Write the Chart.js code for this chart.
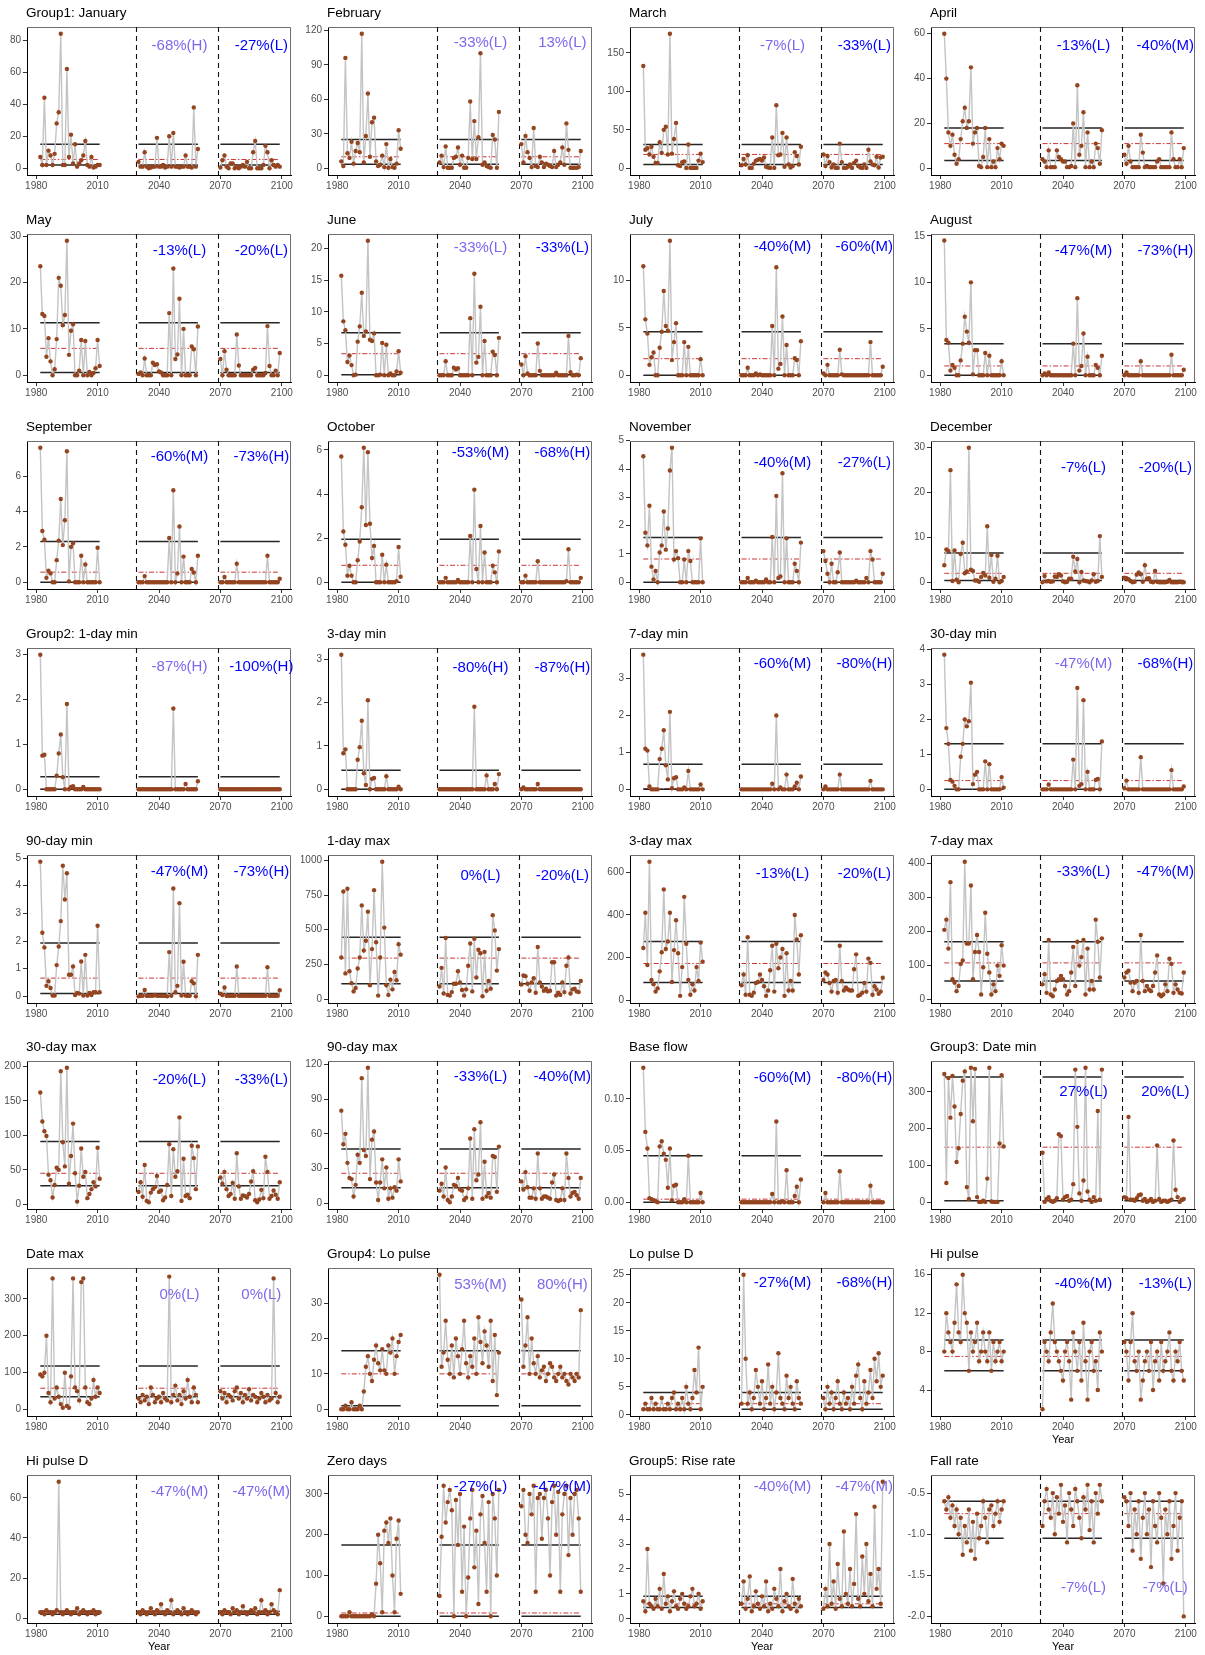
<!DOCTYPE html>
<html><head><meta charset="utf-8">
<script src="https://cdn.jsdelivr.net/npm/chart.js@4.4.1/dist/chart.umd.min.js"></script>
<style>
html,body{margin:0;padding:0;background:#fff;}
body{width:1205px;height:1655px;position:relative;overflow:hidden;}
canvas{position:absolute;}
</style></head><body>
<script>
// ---------------- DATA ----------------
const xTicks = [1980, 2010, 2040, 2070, 2100];
const periodBreaks = [2029, 2069];
const labelYears = [2050, 2090];
function yearRange(a, b) { const r = []; for (let y = a; y <= b; y++) r.push(y); return r; }
const histYears = yearRange(1982, 2011);
const fut1Years = yearRange(2030, 2059);
const fut2Years = yearRange(2070, 2099);

const titles = ['Group1: January','February','March','April','May','June','July','August',
 'September','October','November','December','Group2: 1-day min','3-day min','7-day min','30-day min',
 '90-day min','1-day max','3-day max','7-day max','30-day max','90-day max','Base flow','Group3: Date min',
 'Date max','Group4: Lo pulse','Lo pulse D','Hi pulse','Hi pulse D','Zero days','Group5: Rise rate','Fall rate'];

// Group1
const janHist=[7,2,44,2,11, 8,2,9,28,35, 84,2,2,62,7, 21,3,15,1,3, 5,8,17,2,1, 7,0.5,1,2,2];
const janFut1=[4,1,1,10,1, 0,0.5,1,1,19, 1,1,2,0.5,1, 20,1,22,1,1, 0.5,1,1,8,1, 1,0.5,38,1,12];
const janFut2=[0.5,5,8,1,0, 3,3,0,1,0, 1,2,1,4,0, 0,10,17,0,0, 0,2,14,10,0, 5,2,1,2,1];
const febHist=[6,2,96,13,9, 23,4,15,22,14, 117,5,28,65,10, 40,44,6,2,3, 11,1,21,0.5,8, 1,0.5,4,33,17];
const febFut1=[5,11,1,19,0.5, 0.5,0.5,9,10,18, 3,11,0.5,0.5,9, 58,8,41,8,27, 100,3,5,2,1, 0.5,29,25,0.5,49];
const febFut2=[21,5,28,14,9, 1,35,2,1,10, 5,1,4,3,2, 1,15,1,3,5, 18,3,39,16,0.5, 0.5,0.5,0.5,1,15];
const marHist=[133,24,26,18,28, 15,7,7,34,20, 50,54,18,175,19, 38,59,4,3,8, 9,0.5,31,0.5,0.5, 0.5,0.5,10,19,8];
const marFut1=[4,12,5,17,0.5, 0.5,6,10,11,12, 10,14,2,1,0.5, 40,0.5,82,17,18, 46,2,40,5,1, 3,21,16,5,28];
const marFut2=[18,3,16,8,1, 5,0.5,0.5,32,8, 0.5,0.5,2,5,0.5, 7,10,3,1,0.5, 5,0.5,24,9,5, 4,15,1,14,15];
const aprHist=[60,40,16,10,15, 6,2,4,13,21, 27,18,21,45,11, 16,18,1,0.5,5, 18,0.5,13,0.5,3, 0.5,9,4,11,10];
const aprFut1=[4,3,0.5,8,0.5, 0.5,0.5,8,5,4, 3,3,0.5,0.5,1, 20,0.5,37,6,10, 25,0.5,16,0.5,3, 0.5,11,9,2,17];
const aprFut2=[6,2,10,3,0.5, 0.5,0.5,0.5,15,7, 0.5,1,0.5,0.5,0.5, 0.5,3,4,0.5,0.5, 0.5,0.5,0.5,16,4, 0.5,0.5,4,0.5,9];
const mayHist=[23.5,13.2,12.8,4,8, 3,0,1.3,7.8,21, 19.3,10.8,13,29,4.4, 9.6,11,0,0,1, 7.6,0,7.4,0,0.7, 0,0.5,1.5,7.6,2];
const mayFut1=[0.3,0.6,0,3.6,0, 0,0,2.7,2.2,2.4, 0.8,0.6,0,0,0, 13.4,0,23,3.5,4.5, 16.5,0,10,0,0, 0,6.2,5.6,0,10.5];
const mayFut2=[3.5,0,5.2,1.2,0, 0,0,0,8.8,2.1, 0,0,0,0,0, 0,1.2,1.6,0,0, 0,0,0.5,10.6,2, 0,0,1,0,4.8];
const junHist=[15.7,8.5,7.1,2.1,3.1, 1.6,0,0.1,5.3,7.7, 13,6.2,6.9,21.2,5.6, 5.4,6.6,0,0,0.1, 5.1,0,4.8,0,0.3, 0,0,0.6,3.8,0.4];
const junFut1=[0,0,0,2.2,0, 0,0,1.2,0.9,1.1, 0,0,0,0,0, 9,0,16,2,2.9, 10.8,0,5.4,0,0, 0,3.7,3.2,0,5.9];
const junFut2=[1.7,0,3,0.3,0, 0,0,0,5,0.7, 0,0,0,0,0, 0,0,0.4,0,0, 0,0,0,6.2,0.5, 0,0,0.1,0,2.7];
const julHist=[11.5,5.9,4.4,1.1,1.9, 2.4,0,0,2.9,4.6, 8.9,5.2,4.7,14.2,1.6, 3.5,5.5,0,0,0, 3.5,0,3,0,0, 0,0,0,1.7,0];
const julFut1=[0,0,0,0.8,0, 0,0,0.2,0,0.1, 0,0,0,0,0, 5.2,0,11.4,0.7,1.2, 6.2,0,3.2,0,0, 0,1.8,1.6,0,3.6];
const julFut2=[0.2,0,1.1,0,0, 0,0,0,2.7,0.1, 0,0,0,0,0, 0,0,0,0,0, 0,0,0,3.5,0, 0,0,0,0,0.9];
const augHist=[14.5,3.8,3.5,0.5,1.1, 0.8,0,0,1.6,3.4, 6.3,4.7,3.5,10,0.1, 2.7,2.7,0,0,0, 2.4,0,2.1,0,0, 0,0,0,1.5,0];
const augFut1=[0,0.2,0,0.3,0, 0,0,0,0,0, 0,0,0,0,0, 3.4,0,8.3,0.5,1, 4.5,0,2,0,0, 0,1.1,0.8,0,2.1];
const augFut2=[0,0.3,0,0,0, 0,0,0,1.5,0, 0,0,0,0,0, 0,0,0,0,0, 0,0,0,2.2,0, 0,0,0,0,0.6];
const sepHist=[7.6,2.9,2.4,0.25,0.65, 0.5,0,0,1.25,2.35, 4.7,2.1,3.5,7.4,0.05, 2,2.2,0,0,0, 1.5,0,1,0,0, 0,0,0,1.95,0];
const sepFut1=[0,0,0,0.35,0, 0,0,0,0,0, 0,0,0,0,0, 2.5,0,5.2,0,0.5, 3.15,0,1.45,0,0, 0,0.75,0.55,0,1.5];
const sepFut2=[0,0,0.3,0,0, 0,0,0,1.05,0, 0,0,0,0,0, 0,0,0,0,0, 0,0,0,1.5,0, 0,0,0,0,0.2];
const octHist=[5.7,2.3,1.7,0.3,0.75, 0.3,0,0,1,1.85, 3.4,6.1,2.6,5.9,2.65, 1.1,1.65,0,0,0, 1.25,0,0.8,0,0, 0,0,0.05,1.6,0.25];
const octFut1=[0,0,0,0.2,0, 0,0,0,0,0.1, 0,0,0,0,0, 2.1,0,4.2,0.6,0, 2.55,0,1.35,0,0, 0,0.75,0.45,0,1.4];
const octFut2=[0,0,0.3,0,0, 0,0,0,0.95,0, 0,0,0,0,0, 0,0,0,0,0, 0,0,0.05,1.5,0, 0,0,0,0,0.2];
const novHist=[4.45,1.75,1.3,2.7,0.55, 0.1,0.4,0,1.05,1.3, 2.5,1.15,1.9,3.95,4.75, 0.8,1.1,0.85,0,0, 0.8,0,1.1,0.75,0, 0,0,0,1.55,0];
const novFut1=[0,0,0,0.15,0, 0,0,0.05,0,0, 0,0,0.1,0,0, 1.6,0,3.05,0.15,0.2, 3.85,0,1.55,0,0, 0,0.65,0.4,0,1.4];
const novFut2=[1.1,0.75,0.3,0,0.65, 0,0,0.35,1.05,0, 0,0,0,0,0, 0,0.05,0,0,0, 0,0.15,0,1.1,0.8, 0,0,0,0,0.3];
const decHist=[3.8,7.3,7,25,0.3, 7.1,0.6,0,6.3,8.8, 2,2.4,30,2.8,2.5, 0.4,0.4,0.1,1.2,2.1, 1.5,12.5,1,6.1,0.1, 0.8,5.9,0,0.3,1.2];
const decFut1=[0,1.4,0.2,0.3,0.1, 0.2,1.3,1.2,1.8,1.5, 0.2,0,0.1,0.8,0.8, 5.7,2.4,5.2,0,2.3, 0.4,0.3,0.2,0,0.4, 1.8,0.1,0.3,10.3,1.2];
const decFut2=[1,0.9,0.7,0.3,0, 0.1,1.7,2.2,1.8,0.1, 3.8,0.8,0.9,0.1,0, 2.5,0.1,0,0,0, 0,0.1,0.5,0,0, 0,0,0.1,0,0];
// Group2
const min1Hist=[3,0.75,0.77,0,0, 0,0,0,0.3,0.8, 1.22,0.27,0,1.9,0, 0.05,0.07,0,0,0, 0,0.05,0,0,0, 0,0,0,0,0];
const min1Fut1=[0,0,0,0,0, 0,0,0,0,0, 0,0,0,0,0, 0,0,1.8,0,0, 0,0,0,0.12,0, 0,0,0,0,0.18];
const min1Fut2=[0,0,0,0,0, 0,0,0,0,0, 0,0,0,0,0, 0,0,0,0,0, 0,0,0,0,0, 0,0,0,0,0];
const min3Hist=[3.1,0.83,0.92,0,0, 0,0,0,0.68,0.97, 1.58,0.37,0.1,2.05,0, 0.24,0.26,0,0,0, 0,0,0.3,0,0, 0,0,0,0.06,0];
const min3Fut1=[0,0,0,0,0, 0,0,0,0,0, 0,0,0,0,0, 0,0,1.9,0,0, 0,0,0,0.32,0, 0,0,0.12,0,0.35];
const min3Fut2=[0,0.04,0,0,0, 0,0,0,0.12,0, 0,0,0,0,0, 0,0,0,0,0, 0,0,0,0,0, 0,0,0,0,0];
const min7Hist=[3.65,1.1,1.05,0.08,0, 0,0,0,0.82,1.1, 1.6,0.65,0.27,2.1,0.03, 0.3,0.33,0,0,0, 0.05,0,0.5,0,0, 0,0,0,0.13,0];
const min7Fut1=[0,0,0,0,0, 0,0,0,0,0, 0,0,0,0,0, 0.15,0,2.0,0,0.05, 0,0,0.4,0,0, 0,0.08,0.18,0,0.35];
const min7Fut2=[0,0.08,0,0,0, 0,0,0,0.4,0, 0,0,0,0,0, 0,0,0,0,0, 0,0,0,0.23,0, 0,0,0,0,0];
const min30Hist=[3.85,1.75,1.3,0.27,0.22, 0.1,0,0,0.93,1.3, 2,1.8,1.95,3.05,0.15, 0.42,0.5,0,0,0, 0.8,0,0.72,0,0, 0,0,0,0.35,0.05];
const min30Fut1=[0,0,0,0.14,0, 0,0,0,0,0, 0,0,0,0,0, 0.85,0,2.9,0.1,0.15, 2.55,0,0.5,0,0, 0,0.27,0.3,0,1.37];
const min30Fut2=[0.03,0.25,0,0,0, 0,0,0,0.92,0, 0,0,0,0,0, 0,0,0,0,0, 0,0,0,0.55,0, 0,0,0,0,0.08];
const min90Hist=[4.87,2.3,1.77,0.38,0.55, 0.3,0.03,0.03,1.13,1.8, 2.72,4.72,3.5,4.45,0.78, 0.78,1.08,0.05,0.12,0.1, 1.26,0.03,1.5,0.03,0.12, 0.05,0.15,0.15,2.55,0.15];
const min90Fut1=[0,0.02,0.02,0.23,0.02, 0.02,0.02,0.02,0.05,0.02, 0.02,0.02,0.02,0.02,0, 1.6,0.02,3.9,0.15,0.38, 3.37,0.03,1.25,0.03,0.02, 0.02,0.55,0.47,0,1.5];
const min90Fut2=[0.1,0.05,0.32,0.02,0.02, 0.02,0.02,0.02,1.08,0.02, 0.02,0.02,0.02,0.02,0.02, 0.02,0.02,0.02,0.02,0.02, 0.02,0.02,0.02,1.05,0.02, 0.02,0.02,0.02,0.02,0.22];
const max1Hist=[300,775,185,795,200, 115,55,80,220,300, 675,350,420,630,100, 360,785,410,25,300, 990,515,100,30,140, 70,195,135,395,320];
const max1Fut1=[90,225,40,440,30, 25,50,110,110,200, 120,65,25,70,240, 400,55,435,155,355, 330,20,340,60,130, 75,605,495,205,360];
const max1Fut2=[105,170,165,110,60, 120,150,45,375,120, 90,60,75,55,60, 265,265,25,45,30, 120,50,240,300,40, 70,75,55,50,130];
const max3Hist=[245,410,165,650,95, 75,40,55,135,225, 520,240,275,410,85, 235,375,220,20,155, 485,265,95,25,75, 45,155,90,270,180];
const max3Fut1=[70,120,25,295,25, 20,35,80,85,120, 95,65,20,45,140, 255,40,265,150,200, 240,20,220,45,90, 45,400,285,120,305];
const max3Fut2=[95,130,120,80,40, 90,95,35,255,90, 45,60,50,45,45, 145,215,20,25,35, 80,40,195,175,25, 65,50,30,40,105];
const max7Hist=[205,235,150,345,60, 50,25,40,105,115, 405,165,165,335,60, 140,190,140,15,95, 255,135,80,15,45, 25,100,70,160,100];
const max7Fut1=[45,75,20,175,15, 10,30,55,60,70, 60,40,15,25,80, 155,40,170,100,125, 175,15,150,30,55, 30,235,170,65,180];
const max7Fut2=[65,80,85,50,25, 50,55,20,190,55, 25,40,30,25,40, 80,130,15,10,15, 45,25,120,105,20, 45,30,20,18,80];
const max30Hist=[162,120,106,99,43, 35,10,28,53,50, 193,90,55,198,30, 70,117,45,4,27, 81,40,47,9,15, 22,32,26,82,37];
const max30Fut1=[18,32,11,57,5, 3,17,22,25,41, 18,20,6,10,28, 87,12,80,40,48, 126,5,66,12,14, 9,85,67,22,84];
const max30Fut2=[39,30,47,22,12, 15,31,8,74,26, 8,13,12,10,15, 33,48,6,3,7, 21,9,69,47,8, 12,20,14,8,32];
const max90Hist=[80,51,60,35,22, 21,6,16,42,35, 108,46,41,117,21, 55,62,18,3,18, 38,13,31,4,13, 5,14,11,38,19];
const max90Fut1=[11,17,6,31,3, 1,6,16,15,22, 12,11,3,5,13, 56,4,64,20,25, 70,4,36,6,9, 5,41,40,10,49];
const max90Fut2=[19,12,27,14,5, 5,13,4,43,13, 4,6,6,5,4, 18,25,3,2,3, 13,3,43,22,6, 9,10,7,4,22];
const baseHist=[0.13,0.068,0.052,0.004,0.003, 0.002,0.001,0,0.054,0.059, 0.047,0.041,0.014,0.052,0.002, 0.016,0.017,0,0,0, 0.003,0,0.045,0,0, 0,0,0,0.009,0];
const baseFut1=[0,0,0,0,0, 0,0,0,0,0, 0,0,0,0,0, 0.008,0,0.078,0,0, 0.001,0,0.031,0,0, 0,0.006,0.015,0,0.022];
const baseFut2=[0,0.009,0,0,0, 0,0,0,0.03,0, 0,0,0,0,0, 0,0,0,0,0, 0,0,0,0.016,0, 0,0,0,0,0];
// Group3
const dateMinHist=[348,53,337,230,343, 260,110,147,240,330, 355,42,10,365,220, 362,15,2,2,5, 2,65,365,3,2, 2,2,160,345,152];
const dateMinFut1=[135,2,10,15,5, 2,5,12,185,180, 8,15,18,5,8, 50,360,205,25,5, 60,365,30,8,2, 15,5,248,8,360];
const dateMinFut2=[15,12,232,8,8, 5,12,20,22,5, 10,2,5,10,2, 5,155,10,2,5, 5,2,5,8,168, 35,15,2,8,10];
const dateMaxHist=[95,90,100,200,45, 20,355,30,60,35, 15,5,100,10,5, 90,355,60,50,25, 345,355,60,20,15, 30,80,35,60,45];
const dateMaxFut1=[30,20,40,25,35, 15,60,40,20,30, 35,20,45,30,25, 360,20,40,65,25, 40,15,50,30,80, 35,20,60,40,20];
const dateMaxFut2=[50,30,45,20,40, 35,25,50,60,30, 45,20,40,30,55, 25,40,35,20,30, 45,35,20,40,25, 30,355,45,20,35];
// Group4
const loPulseHist=[0,0,1,0,0, 2,0,0,0,1, 0,5,12,15,10, 8,14,18,13,11, 17,11,10,18,16, 20,10,15,19,21];
const loPulseFut1=[38,12,16,25,14, 10,18,9,20,15, 10,17,25,13,9, 15,12,20,10,26, 19,13,22,18,12, 25,8,21,4,16];
const loPulseFut2=[31,12,18,26,10, 20,13,10,15,9, 11,12,8,10,13, 12,9,8,10,12, 9,10,8,7,10, 9,8,10,9,28];
const loPulseDHist=[1,2,1,1,3, 1,2,1,1,3, 1,1,2,1,3, 4,1,2,1,3, 1,5,2,1,3, 8,4,12,1,5];
const loPulseDFut1=[2,25,10,2,4, 1,3,8,5,2, 6,1,3,9,2, 5,1,4,11,3, 2,1,7,3,5, 2,1,6,3,2];
const loPulseDFut2=[3,1,5,2,4, 1,3,6,2,1, 4,2,3,1,5, 2,7,9,3,1, 6,2,4,8,3, 10,6,11,5,7];
const hiPulseHist=[8,12,10,9,8, 11,15,10,9,16, 12,11,6,10,8, 9,11,7,8,10, 8,7,10,6,9, 7,8,9,7,8];
const hiPulseFut1=[2,9,8,7,10, 13,9,8,7,6, 5,8,9,7,3, 10,8,6,9,5, 11,7,3,8,9, 6,7,4,10,8];
const hiPulseFut2=[9,8,5,9,12, 7,6,8,3,5, 7,8,6,9,4, 7,8,5,9,6, 7,8,10,6,5, 8,7,9,6,5];
const hiPulseDHist=[3,3,2,4,3, 3,2,3,4,68, 3,2,3,4,3, 2,3,3,5,2, 3,4,3,2,3, 3,4,2,3,3];
const hiPulseDFut1=[3,2,4,3,2, 3,5,3,2,4, 3,7,3,2,4, 3,9,2,3,4, 3,2,5,3,2, 3,4,3,2,3];
const hiPulseDFut2=[3,2,4,3,3, 2,5,3,4,2, 3,6,3,2,3, 4,3,5,2,3, 9,3,4,2,3, 7,4,3,2,14];
const zeroHist=[0,0,0,0,10, 0,0,0,0,0, 0,0,0,0,0, 5,0,80,200,130, 10,210,230,180,240, 100,10,190,235,55];
const zeroFut1=[50,195,320,230,280, 310,260,0,285,175, 300,60,220,0,95, 240,310,120,210,30, 250,295,180,60,280, 0,300,240,100,310];
const zeroFut2=[270,310,200,180,300, 250,320,60,290,300, 190,290,310,240,100, 280,320,200,305,60, 250,300,320,150,290, 200,300,310,240,60];
// Group5
const riseHist=[0.7,0.3,2.8,0.6,0.5, 0.4,0.8,0.5,1.2,0.4, 1.8,0.6,0.9,0.3,0.7, 1.1,0.5,0.4,0.8,1.0, 0.6,0.4,0.5,0.9,1.2, 0.5,0.6,1.0,0.4,0.7];
const riseFut1=[0.6,1.5,0.4,0.8,1.7, 0.3,0.5,1.1,0.6,0.4, 0.9,0.5,1.5,0.3,0.6, 0.4,1.2,0.8,0.5,2.0, 0.3,0.7,1.0,0.5,0.4, 1.6,0.6,0.3,0.8,0.5];
const riseFut2=[0.4,1.2,0.5,3.0,0.6, 1.5,0.4,2.2,0.8,0.5, 3.5,1.0,0.6,2.0,0.5, 1.4,4.2,0.8,0.5,2.5, 1.0,3.0,0.7,1.8,0.5, 4.5,1.2,2.0,0.6,5.5];
const fallHist=[-0.6,-0.7,-0.55,-0.8,-0.65, -0.9,-0.7,-1.0,-0.8,-1.25, -0.9,-1.1,-0.7,-1.2,-0.85, -1.3,-0.75,-1.05,-0.9,-0.6, -0.8,-1.1,-0.7,-0.65,-0.9, -0.75,-0.6,-0.85,-0.7,-0.6];
const fallFut1=[-0.9,-0.6,-0.45,-0.7,-0.8, -0.5,-1.0,-0.55,-0.75,-0.4, -0.85,-0.65,-1.1,-0.5,-0.7, -0.9,-0.45,-0.6,-0.8,-1.05, -0.55,-0.7,-0.4,-0.95,-0.6, -1.1,-0.5,-0.75,-0.4,-0.6];
const fallFut2=[-0.55,-0.6,-0.9,-0.5,-1.2, -0.7,-1.0,-0.6,-1.3,-0.8, -0.5,-1.0,-0.7,-1.4,-0.6, -0.9,-1.1,-0.5,-0.8,-1.6, -0.7,-1.0,-0.6,-1.3,-0.9, -0.5,-1.2,-0.8,-0.6,-2.0];

const histSeries=[janHist,febHist,marHist,aprHist,mayHist,junHist,julHist,augHist,sepHist,octHist,novHist,decHist,
 min1Hist,min3Hist,min7Hist,min30Hist,min90Hist,max1Hist,max3Hist,max7Hist,max30Hist,max90Hist,baseHist,dateMinHist,
 dateMaxHist,loPulseHist,loPulseDHist,hiPulseHist,hiPulseDHist,zeroHist,riseHist,fallHist];
const fut1Series=[janFut1,febFut1,marFut1,aprFut1,mayFut1,junFut1,julFut1,augFut1,sepFut1,octFut1,novFut1,decFut1,
 min1Fut1,min3Fut1,min7Fut1,min30Fut1,min90Fut1,max1Fut1,max3Fut1,max7Fut1,max30Fut1,max90Fut1,baseFut1,dateMinFut1,
 dateMaxFut1,loPulseFut1,loPulseDFut1,hiPulseFut1,hiPulseDFut1,zeroFut1,riseFut1,fallFut1];
const fut2Series=[janFut2,febFut2,marFut2,aprFut2,mayFut2,junFut2,julFut2,augFut2,sepFut2,octFut2,novFut2,decFut2,
 min1Fut2,min3Fut2,min7Fut2,min30Fut2,min90Fut2,max1Fut2,max3Fut2,max7Fut2,max30Fut2,max90Fut2,baseFut2,dateMinFut2,
 dateMaxFut2,loPulseFut2,loPulseDFut2,hiPulseFut2,hiPulseDFut2,zeroFut2,riseFut2,fallFut2];

const upperLine=[15,25,31,18,11.3,6.7,4.6,3.4,2.3,1.95,1.58,6.5, 0.28,0.44,0.68,1.3,1.93,445,275,170,91,47,0.045,340, 118,16.5,4,9.2,3.5,175,0.9,-0.6];
const lowerLine=[2,3.5,5,3.5,0.6,0.1,0,0,0,0,0,0.4, 0,0,0,0,0.1,110,83,55,27,13.5,0,5, 35,1,1,6,2,0,0.45,-1.05];
const midLine  =[5.5,10,18,11,5.8,3.4,1.75,1.0,0.57,0.77,0.82,2.0, 0,0,0.02,0.25,0.66,295,172,108,45,26,0.003,150, 58,10,2,7.5,3,8,0.6,-0.75];

const yTickLabels=[['0','20','40','60','80'],['0','30','60','90','120'],['0','50','100','150'],['0','20','40','60'],
 ['0','10','20','30'],['0','5','10','15','20'],['0','5','10'],['0','5','10','15'],
 ['0','2','4','6'],['0','2','4','6'],['0','1','2','3','4','5'],['0','10','20','30'],
 ['0','1','2','3'],['0','1','2','3'],['0','1','2','3'],['0','1','2','3','4'],
 ['0','1','2','3','4','5'],['0','250','500','750','1000'],['0','200','400','600'],['0','100','200','300','400'],
 ['0','50','100','150','200'],['0','30','60','90','120'],['0.00','0.05','0.10'],['0','100','200','300'],
 ['0','100','200','300'],['0','10','20','30'],['0','5','10','15','20','25'],['4','8','12','16'],
 ['0','20','40','60'],['0','100','200','300'],['0','1','2','3','4','5'],['-2.0','-1.5','-1.0','-0.5']];
const yMin=[-4.2,-5.85,-8.75,-3,-1.45,-1.06,-0.71,-0.725,-0.38,-0.305,-0.24,-1.5,
 -0.15,-0.155,-0.18,-0.19,-0.24,-28.5,-13.6,-9.75,-6.75,-4.8,-0.0065,-17.2,
 -17.2,-1.9,-0.2,1.3,-2.35,-16.5,-0.17,-2.08];
const yMax=[88.2,122.85,183.75,63,30.45,22.26,14.91,15.2,7.98,6.405,4.99,31.5,
 3.15,3.255,3.83,4.04,5.11,1038.5,681.6,424.75,207.75,122.8,0.1365,383.2,
 383.2,39.9,26.2,16.7,71.35,346.5,5.77,-0.28];

const changeFut1=['-68%(H)','-33%(L)','-7%(L)','-13%(L)','-13%(L)','-33%(L)','-40%(M)','-47%(M)','-60%(M)','-53%(M)','-40%(M)','-7%(L)',
 '-87%(H)','-80%(H)','-60%(M)','-47%(M)','-47%(M)','0%(L)','-13%(L)','-33%(L)','-20%(L)','-33%(L)','-60%(M)','27%(L)',
 '0%(L)','53%(M)','-27%(M)','-40%(M)','-47%(M)','-27%(L)','-40%(M)','-7%(L)'];
const changeFut2=['-27%(L)','13%(L)','-33%(L)','-40%(M)','-20%(L)','-33%(L)','-60%(M)','-73%(H)','-73%(H)','-68%(H)','-27%(L)','-20%(L)',
 '-100%(H)','-87%(H)','-80%(H)','-68%(H)','-73%(H)','-20%(L)','-20%(L)','-47%(M)','-33%(L)','-40%(M)','-80%(H)','20%(L)',
 '0%(L)','80%(H)','-68%(H)','-13%(L)','-47%(M)','-47%(M)','-47%(M)','-7%(L)'];
// 1 = strong blue, 0 = pale purple
const strongFut1=[0,0,0,1,1,0,1,1,1,1,1,1, 0,1,1,0,1,1,1,1,1,1,1,1, 0,0,1,1,0,1,0,0];
const strongFut2=[1,0,1,1,1,1,1,1,1,1,1,1, 1,1,1,1,1,1,1,1,1,1,1,1, 0,0,1,1,0,1,0,0];
const labelY=[76.5,109,159,54.6,26.8,20,13.6,13.4,7.07,5.85,4.23,25.4,
 2.72,2.79,3.4,3.6,4.51,885,595,374,181,109,0.12,300,
 310,35,23.5,15,63,318,5.3,-1.65];
const yearTitlePanels=[27,28,30,31];

// ---------------- DRAWING ----------------
const FONT='"Liberation Sans", Arial, Helvetica, sans-serif';
const COLW=1205/4, ROWH=1655/8;

function seriesPoints(h,f1,f2){
  const pts=[];
  h.forEach((v,k)=>pts.push({x:histYears[k],y:v}));
  pts.push({x:periodBreaks[0]-5,y:null});
  f1.forEach((v,k)=>pts.push({x:fut1Years[k],y:v}));
  pts.push({x:periodBreaks[1]-5,y:null});
  f2.forEach((v,k)=>pts.push({x:fut2Years[k],y:v}));
  return pts;
}
function levelPoints(v){
  return [{x:histYears[0],y:v},{x:histYears[histYears.length-1],y:v},{x:periodBreaks[0]-5,y:null},
          {x:fut1Years[0],y:v},{x:fut1Years[fut1Years.length-1],y:v},{x:periodBreaks[1]-5,y:null},
          {x:fut2Years[0],y:v},{x:fut2Years[fut2Years.length-1],y:v}];
}

function makePanel(i){
  const r=Math.floor(i/4), c=i%4;
  const cv=document.createElement('canvas');
  cv.width=301; cv.height=207;
  cv.style.left=Math.round(c*COLW)+'px';
  cv.style.top=Math.round(r*ROWH)+'px';
  cv.style.width='301px'; cv.style.height='207px';
  document.body.appendChild(cv);
  const tickVals=yTickLabels[i].map(Number);
  const decor={
    id:'decor'+i,
    beforeDatasetsDraw(chart){
      const {ctx,chartArea:a,scales:{x}}=chart;
      ctx.save();
      ctx.strokeStyle='#6e6e6e'; ctx.lineWidth=1;
      ctx.beginPath();
      ctx.moveTo(a.left,a.top+0.5); ctx.lineTo(a.right-0.5,a.top+0.5); ctx.lineTo(a.right-0.5,a.bottom);
      ctx.stroke();
      ctx.setLineDash([5,4]); ctx.strokeStyle='#111'; ctx.lineWidth=1.1;
      periodBreaks.forEach(b=>{
        const px=Math.round(x.getPixelForValue(b))+0.5;
        ctx.beginPath(); ctx.moveTo(px,a.top); ctx.lineTo(px,a.bottom); ctx.stroke();
      });
      ctx.restore();
    },
    afterDraw(chart){
      const {ctx,chartArea:a,scales:{x,y}}=chart;
      ctx.save();
      ctx.fillStyle='#000'; ctx.font='13.5px '+FONT; ctx.textAlign='left'; ctx.textBaseline='middle';
      ctx.fillText(titles[i], a.left-1, 13);
      ctx.font='15px '+FONT; ctx.textAlign='center';
      const ly=y.getPixelForValue(labelY[i]);
      ctx.fillStyle=strongFut1[i]?'#0000FF':'#7B68EE';
      ctx.fillText(changeFut1[i], x.getPixelForValue(labelYears[0]), ly);
      ctx.fillStyle=strongFut2[i]?'#0000FF':'#7B68EE';
      ctx.fillText(changeFut2[i], x.getPixelForValue(labelYears[1]), ly);
      if(yearTitlePanels.includes(i)){
        ctx.fillStyle='#000'; ctx.font='11px '+FONT;
        ctx.fillText('Year',(a.left+a.right)/2,199);
      }
      ctx.restore();
    }
  };
  new Chart(cv.getContext('2d'),{
    type:'line',
    data:{datasets:[
      {data:seriesPoints(histSeries[i],fut1Series[i],fut2Series[i]),borderColor:'#C4C4C4',borderWidth:1.4,
       pointRadius:2.2,pointBackgroundColor:'#94441F',pointBorderWidth:0,spanGaps:false,tension:0},
      {data:levelPoints(upperLine[i]),borderColor:'#262626',borderWidth:1.5,pointRadius:0,spanGaps:false},
      {data:levelPoints(lowerLine[i]),borderColor:'#262626',borderWidth:1.5,pointRadius:0,spanGaps:false},
      {data:levelPoints(midLine[i]),borderColor:'#CC3333',borderWidth:1,borderDash:[5,2,1.5,2],pointRadius:0,spanGaps:false}
    ]},
    options:{
      responsive:false,animation:false,devicePixelRatio:1,
      layout:{padding:{top:27,right:10,left:0,bottom:0}},
      plugins:{legend:{display:false},tooltip:{enabled:false},title:{display:false}},
      scales:{
        x:{type:'linear',min:1975.5,max:2104.5,
           afterBuildTicks:s=>{s.ticks=xTicks.map(v=>({value:v}));},
           afterFit:s=>{s.height=32;},
           grid:{display:true,drawOnChartArea:false,drawTicks:true,tickLength:4,color:'#333'},
           border:{display:true,color:'#000',width:1},
           ticks:{font:{size:10,family:FONT},color:'#4D4D4D',padding:1,maxRotation:0,autoSkip:false,
                  callback:v=>String(v)}},
        y:{type:'linear',min:yMin[i],max:yMax[i],
           afterBuildTicks:s=>{s.ticks=tickVals.map(v=>({value:v}));},
           afterFit:s=>{s.width=27;},
           grid:{display:true,drawOnChartArea:false,drawTicks:true,tickLength:4,color:'#333'},
           border:{display:true,color:'#000',width:1},
           ticks:{font:{size:10,family:FONT},color:'#4D4D4D',padding:2,autoSkip:false,
                  callback:(v)=>{const k=tickVals.indexOf(v);return k>=0?yTickLabels[i][k]:'';}}}
      }
    },
    plugins:[decor]
  });
}
titles.forEach((t,i)=>makePanel(i));
</script>
</body></html>
